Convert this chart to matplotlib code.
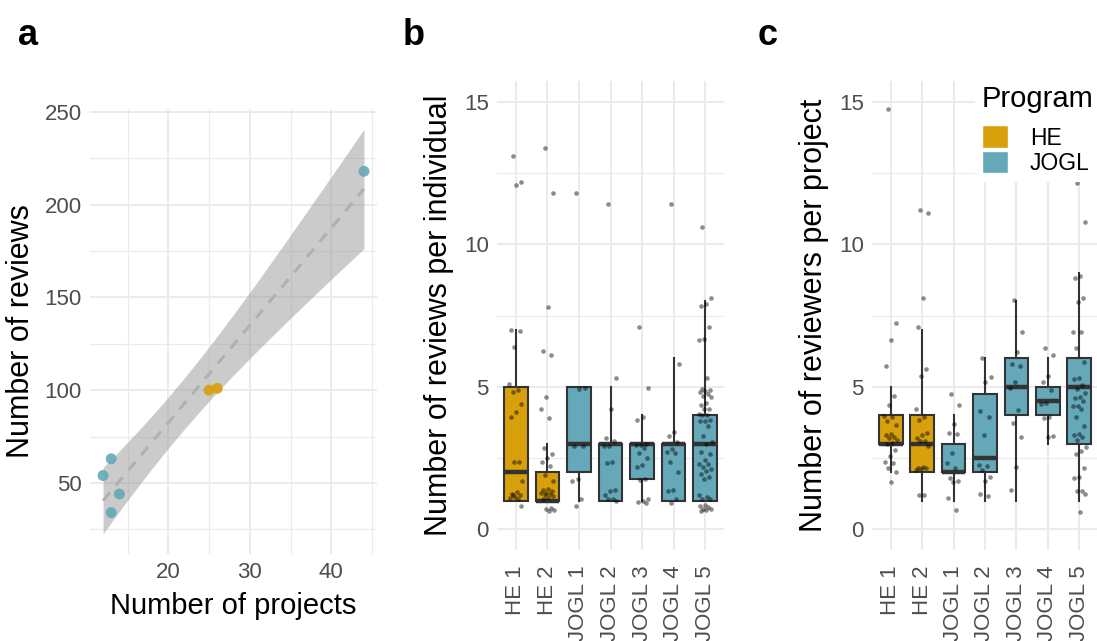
import numpy as np
import matplotlib
matplotlib.use("Agg")
import matplotlib.pyplot as plt
from matplotlib.patches import Patch
from matplotlib.ticker import MultipleLocator

plt.rcParams['font.family'] = ['Liberation Sans', 'DejaVu Sans']

HE_COL = '#D8A00B'
JOGL_COL = '#64A8B9'
GRID_COL = '#EBEBEB'
TICK_COL = '#4D4D4D'
EDGE_COL = '#333333'

# panel a: projects vs reviews per program round
proj_counts = [12, 13, 13, 14, 25, 26, 44]
review_counts = [54, 63, 34, 44, 100, 101, 218]
round_program = ['JOGL', 'JOGL', 'JOGL', 'JOGL', 'HE', 'HE', 'JOGL']

# panels b, c: rounds
rounds = ['HE 1', 'HE 2', 'JOGL 1', 'JOGL 2', 'JOGL 3', 'JOGL 4', 'JOGL 5']
rounds_program = ['HE', 'HE', 'JOGL', 'JOGL', 'JOGL', 'JOGL', 'JOGL']

# reviews per individual (jittered points)
he1_b = [13.1, 12.2, 12.1, 7.0, 6.95, 6.4, 5.08, 4.9, 4.8, 4.4, 4.1, 3.95, 2.35, 2.35,
         1.7, 1.3, 1.24, 1.18, 1.14, 1.1, 1.06, 1.2, 0.8]
he2_b = [13.4, 11.8, 7.8, 6.25, 6.1, 4.65, 4.2, 3.9, 2.85, 2.65, 2.5, 2.35, 2.2, 1.9, 1.7,
         1.4, 1.36, 1.32, 1.28, 1.25, 1.22, 1.18, 1.15, 1.1, 1.07, 0.74, 0.7, 0.66, 0.62]
jogl1_b = [11.8, 4.95, 4.92, 2.93, 2.9, 1.75, 1.68, 1.07, 0.8]
jogl2_b = [11.4, 5.3, 4.2, 3.2, 3.1, 2.93, 2.9, 2.35, 2.33, 1.36, 1.32, 1.18, 1.06, 1.05, 1.0]
jogl3_b = [7.1, 4.95, 3.95, 3.84, 3.0, 2.96, 2.94, 2.84, 2.66, 2.5, 2.25, 2.19, 1.76, 1.74,
           1.06, 0.97, 0.94, 0.9]
jogl4_b = [11.4, 5.8, 3.4, 3.28, 3.04, 2.8, 2.72, 2.66, 2.34, 2.0, 1.36, 1.35, 1.06, 0.9]
jogl5_b = [10.6, 8.1, 7.9, 7.83, 7.1, 6.67, 6.63, 5.3, 4.92, 4.88, 4.86, 4.8, 4.74, 4.69,
           4.63, 4.43, 4.34, 4.22, 4.2, 4.05, 4.01, 3.99, 3.84, 3.81, 3.78, 3.62, 3.26, 3.06,
           2.98, 2.71, 2.65, 2.42, 2.3, 2.28, 2.19, 2.1, 2.05, 1.95, 1.84, 1.75, 1.18, 1.12,
           1.06, 1.04, 0.83, 0.8, 0.77, 0.71, 0.69, 0.66, 0.64]

whislo_b = [1, 1, 1, 1, 1, 1, 1]
q1_b = [1, 1, 2, 1, 1.75, 1, 1]
med_b = [2, 1, 3, 3, 3, 3, 3]
q3_b = [5, 2, 5, 3, 3, 3, 4]
whishi_b = [7, 3, 5, 5, 4, 6, 8]

# reviewers per project (jittered points)
he1_c = [14.75, 7.25, 6.63, 5.72, 4.66, 4.36, 3.96, 3.94, 3.81, 3.67, 3.34, 3.29, 3.23, 3.2,
         3.14, 3.02, 2.98, 2.78, 2.58, 2.37, 2.33, 2.13, 1.99, 1.66]
he2_c = [11.2, 11.1, 8.13, 7.08, 5.63, 5.37, 4.22, 3.94, 3.84, 3.37, 3.31, 3.2, 3.1, 3.08,
         2.9, 2.19, 2.16, 2.13, 2.1, 2.08, 1.19, 1.18]
jogl1_c = [4.75, 4.37, 3.7, 3.36, 3.33, 2.67, 2.33, 2.13, 1.8, 1.69, 1.66, 1.09, 0.68]
jogl2_c = [6.0, 5.35, 5.18, 4.14, 3.92, 3.29, 2.25, 2.22, 2.09, 1.83, 1.67, 1.23, 1.17]
jogl3_c = [8.05, 6.92, 6.23, 5.8, 5.74, 5.18, 4.95, 4.18, 3.71, 3.22, 2.18, 1.37]
jogl4_c = [6.36, 6.1, 5.38, 5.16, 4.9, 4.43, 4.4, 3.94, 3.9, 3.27, 3.25]
jogl5_c = [12.17, 10.77, 8.89, 8.81, 8.1, 7.96, 6.93, 6.91, 6.36, 5.85, 5.29, 5.27, 5.07,
           4.92, 4.77, 4.65, 4.6, 4.51, 4.33, 4.31, 4.22, 3.92, 3.63, 3.34, 3.32, 3.22, 3.13,
           2.87, 2.75, 2.64, 2.15, 1.82, 1.8, 1.35, 1.32, 1.23, 0.61]

whislo_c = [2, 1, 1, 1, 1, 3, 1]
q1_c = [3, 2, 2, 2, 4, 4, 3]
med_c = [3, 3, 2, 2.5, 5, 4.5, 5]
q3_c = [4, 4, 3, 4.75, 6, 5, 6]
whishi_c = [5, 7, 4, 6, 8, 6, 9]

points_b = [he1_b, he2_b, jogl1_b, jogl2_b, jogl3_b, jogl4_b, jogl5_b]
points_c = [he1_c, he2_c, jogl1_c, jogl2_c, jogl3_c, jogl4_c, jogl5_c]

prog_col = {'HE': HE_COL, 'JOGL': JOGL_COL}


def style_axes(ax):
    for s in ax.spines.values():
        s.set_visible(False)
    ax.tick_params(which='both', length=0, labelsize=16, labelcolor=TICK_COL)
    ax.grid(True, which='major', color=GRID_COL, lw=1.4)
    ax.grid(True, which='minor', color=GRID_COL, lw=0.9)
    ax.set_axisbelow(True)


def box_panel(ax, pts, whislo, q1, med, q3, whishi, ylabel):
    stats = []
    for i in range(len(rounds)):
        stats.append(dict(whislo=whislo[i], q1=q1[i], med=med[i], q3=q3[i],
                          whishi=whishi[i], fliers=[]))
    pos = np.arange(1, len(rounds) + 1)
    bp = ax.bxp(stats, positions=pos, widths=0.75, patch_artist=True,
                showfliers=False, showcaps=False,
                boxprops=dict(edgecolor=EDGE_COL, linewidth=1.5),
                whiskerprops=dict(color=EDGE_COL, linewidth=1.5),
                medianprops=dict(color=EDGE_COL, linewidth=3.2, solid_capstyle='butt'))
    for b, prog in zip(bp['boxes'], rounds_program):
        b.set_facecolor(prog_col[prog])
    # fixed jitter pattern so points spread across the box
    for p, vals in zip(pos, pts):
        n = len(vals)
        offs = ((np.arange(n) * 0.618034 + 0.3) % 1 - 0.5) * 0.42
        ax.scatter(p + offs, vals, s=11, color='black', alpha=0.45,
                   linewidths=0, zorder=4)
    ax.set_xlim(0.4, len(rounds) + 0.6)
    ax.set_ylim(-0.75, 15.75)
    ax.set_xticks(pos)
    ax.set_xticklabels(rounds, rotation=90, ha='center', va='top')
    ax.yaxis.set_major_locator(MultipleLocator(5))
    ax.yaxis.set_minor_locator(MultipleLocator(2.5))
    style_axes(ax)
    ax.grid(False, which='minor', axis='x')
    ax.tick_params(axis='x', pad=11)
    ax.tick_params(axis='y', pad=6)
    ax.set_ylabel(ylabel, fontsize=22, labelpad=7)


fig = plt.figure(figsize=(10.97, 6.41), dpi=100)
W, H = 1097, 641
ax_a = fig.add_axes([90 / W, (H - 554) / H, 287 / W, 445 / H])
ax_b = fig.add_axes([497 / W, (H - 550.4) / H, 227 / W, 469.8 / H])
ax_c = fig.add_axes([872 / W, (H - 550.4) / H, 226 / W, 469.8 / H])

# panel a: linear fit with 95% confidence band
x = np.array(proj_counts, dtype=float)
y = np.array(review_counts, dtype=float)
n = len(x)
slope, intercept = np.polyfit(x, y, 1)
resid = y - (slope * x + intercept)
s_err = np.sqrt(np.sum(resid ** 2) / (n - 2))
t_crit = 2.570582  # t(0.975, df=5)
xs = np.linspace(x.min(), x.max(), 80)
ys = slope * xs + intercept
se = s_err * np.sqrt(1 / n + (xs - x.mean()) ** 2 / np.sum((x - x.mean()) ** 2))
ax_a.fill_between(xs, ys - t_crit * se, ys + t_crit * se, color='#999999',
                  alpha=0.5, linewidth=0, zorder=2)
ax_a.plot(xs, ys, color='#B0B0B0', lw=2.2, dashes=(3.5, 3), zorder=3)
ax_a.scatter(x, y, s=62, c=[prog_col[p] for p in round_program], alpha=0.9,
             linewidths=0, zorder=4)
ax_a.xaxis.set_major_locator(MultipleLocator(10))
ax_a.xaxis.set_minor_locator(MultipleLocator(5))
ax_a.yaxis.set_major_locator(MultipleLocator(50))
ax_a.yaxis.set_minor_locator(MultipleLocator(25))
style_axes(ax_a)
ax_a.tick_params(axis='both', pad=6)
ax_a.set_xlabel('Number of projects', fontsize=21, labelpad=6)
ax_a.set_ylabel('Number of reviews', fontsize=22, labelpad=6)

box_panel(ax_b, points_b, whislo_b, q1_b, med_b, q3_b, whishi_b,
          'Number of reviews per individual')
box_panel(ax_c, points_c, whislo_c, q1_c, med_c, q3_c, whishi_c,
          'Number of reviewers per project')

handles = [Patch(facecolor=HE_COL, edgecolor='white', label='HE'),
           Patch(facecolor=JOGL_COL, edgecolor='white', label='JOGL')]
leg = ax_c.legend(handles=handles, title='Program', loc='upper left',
                  bbox_to_anchor=(975 / W, 1 - 78 / H), bbox_transform=fig.transFigure,
                  fontsize=16.5, title_fontsize=21, frameon=True, fancybox=False,
                  framealpha=1, facecolor='white', edgecolor='none',
                  handlelength=1.15, handleheight=1.15, handletextpad=0.95,
                  labelspacing=0.05, borderpad=0.3, borderaxespad=0)
leg._legend_box.align = 'left'
leg._legend_box.sep = 9
leg.set_zorder(10)

for lab, xp in [('a', 18), ('b', 403), ('c', 758)]:
    fig.text(xp / W, 1 - 45 / H, lab, fontsize=26, fontweight='bold',
             family=['Liberation Sans Narrow', 'Liberation Sans'], va='baseline')

fig.savefig('out.png', dpi=100)
